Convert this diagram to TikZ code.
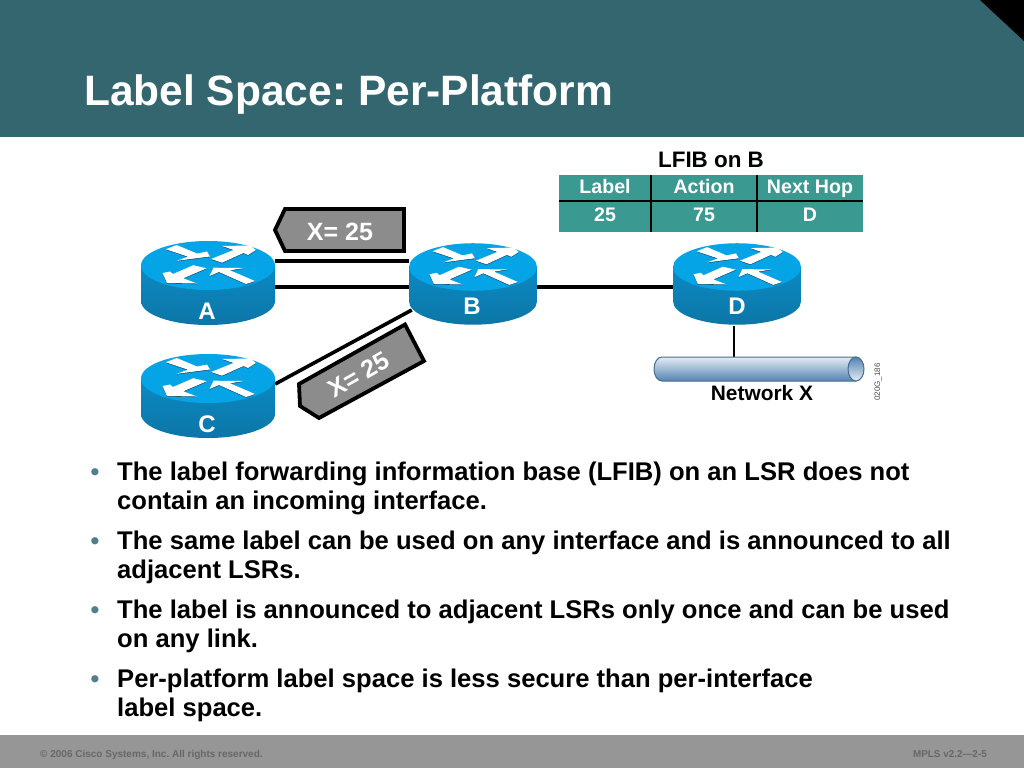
\documentclass[tikz,border=0pt]{standalone}
\usepackage{fontspec}
\usepackage{xcolor}
\setmainfont{Liberation Sans}
\frenchspacing
\definecolor{bannercolor}{HTML}{33666f}
\definecolor{footercolor}{HTML}{969696}
\definecolor{footertext}{HTML}{676767}
\definecolor{tablecolor}{HTML}{3a9990}
\definecolor{routertop}{HTML}{04a4e6}
\definecolor{routerhigh}{HTML}{0b8ac4}
\definecolor{routerlow}{HTML}{0c76a6}
\definecolor{routerdark}{HTML}{06405f}
\definecolor{flagcolor}{HTML}{8c8c8c}
\definecolor{dotcolor}{HTML}{4f7f8f}
\definecolor{buslight}{HTML}{e4ecf4}
\definecolor{busdark}{HTML}{5483b3}
\definecolor{busline}{HTML}{4a6c8c}

\tikzset{
    routerbox/.style = {minimum width = 134pt, minimum height = 84pt, inner sep = 0pt},
    routername/.style = {text = white, font = \fontsize{24}{24}\selectfont\bfseries},
    tablecell/.style = {fill = tablecolor, text = white, inner sep = 0pt, minimum height = 26pt, text height = 14pt, text depth = 4pt, font = \fontsize{19.6}{20}\selectfont\bfseries},
    flagtext/.style = {text = white, font = \fontsize{25}{25}\selectfont\bfseries},
    flagbox/.style = {fill = flagcolor, draw = black, line width = 3.8pt, miter limit = 3},
    wire/.style = {line width = 3.6pt, black},
    bodytext/.style = {anchor = north west, inner sep = 0pt, align = left, font = \fontsize{25.6}{29}\selectfont\bfseries},
    dotmark/.style = {text = dotcolor, inner sep = 0pt, font = \fontsize{25}{25}\selectfont\bfseries},
    router/.pic = {
        \path [top color = routerhigh, bottom color = routerlow] (-67, 0) -- (-67, 35.5) arc [start angle = 180, end angle = 360, x radius = 67pt, y radius = 24pt] -- (67, 0) -- cycle;
        \fill [routertop] (0, 0) ellipse [x radius = 67pt, y radius = 24.5pt];
        \foreach \arrowcolor/\arrowdrop in {routerdark/0.6, white/0} {
            \begin{scope}[shift = {(0, \arrowdrop)}]
                \fill [\arrowcolor] (-42.3, -16.2) -- (-31.3, -20.5) -- (-11, -12) -- (-1, -14) -- (2, -9) -- (-31.3, -4.7) -- (-20, -8.8) -- cycle;
                \fill [\arrowcolor] (3, -6.5) -- (14, -2.8) -- (35.5, -12.5) -- (40, -10.5) -- (48, -15.5) -- (42, -20) -- (14, -19.5) -- (25.5, -15.5) -- cycle;
                \fill [\arrowcolor] (-1.3, 2.8) -- (-14.7, -0.3) -- (-35, 8.5) -- (-38, 6) -- (-45.5, 7.5) -- (-41, 17.5) -- (-11, 18) -- (-24.7, 12.8) -- cycle;
                \fill [\arrowcolor] (47, 15.5) -- (38, 18.5) -- (11, 6.5) -- (1.5, 10.5) -- (5.5, 2.2) -- (36, 2.5) -- (22, 4.8) -- cycle;
            \end{scope}
        }
    }
}

\begin{document}
\begin{tikzpicture}[x = 1pt, y = -1pt]
    \useasboundingbox (0, 0) rectangle (1024, 768);

    % Banner and footer
    \fill [bannercolor] (0, 0) rectangle (1024, 137);
    \fill [black] (980, 0) -- (1024, 0) -- (1024, 41) -- cycle;
    \fill [footercolor] (0, 735) rectangle (1024, 768);
    \node [anchor = base west, inner sep = 0pt, text = white, font = \fontsize{42.5}{43}\selectfont\bfseries] (title) at (84, 105) {Label Space: Per-Platform};
    \node [anchor = base west, inner sep = 0pt, text = footertext, font = \fontsize{10}{10}\selectfont\bfseries] (copyright) at (40, 757.5) {© 2006 Cisco Systems, Inc. All rights reserved.};
    \node [anchor = base east, inner sep = 0pt, text = footertext, font = \fontsize{9.9}{10}\selectfont\bfseries] (course) at (987, 757.5) {MPLS v2.2—2-5};

    % Routers
    \node [routerbox] (A) at (208, 282.5) {};
    \node [routerbox] (C) at (208, 395.5) {};
    \node [routerbox, minimum width = 128pt] (B) at (473, 284) {};
    \node [routerbox, minimum width = 128pt] (D) at (737, 284) {};
    \node [minimum width = 210pt, minimum height = 24pt, inner sep = 0pt] (bus) at (759, 369) {};

    % Draw the links
    \draw [wire] ([yshift = 21.5pt]A.east) -- ([yshift = 21.5pt]A.east -| B.west);
    \draw [wire] ([yshift = -4.5pt]A.east) -- ([yshift = -4.5pt]A.east -| B.west);
    \draw [wire] ([yshift = 11.5pt]C.east) -- ([xshift = 3pt, yshift = -26pt]B.west);
    \draw [wire] ([yshift = -3pt]B.east) -- ([yshift = -3pt]D.west);
    \draw [wire, line width = 2.6pt] ([xshift = -3pt]D.south) -- ([xshift = -3pt]D.south |- bus.north);

    \pic at ([yshift = 17pt]A.center) {router};
    \pic at ([yshift = 17pt]C.center) {router};
    \pic [xscale = .955, yscale = .97] at ([yshift = 17pt]B.center) {router};
    \pic [xscale = .955, yscale = .97] at ([yshift = 17pt]D.center) {router};

    % Router names
    \node [routername] (nameA) at (207, 311) {A};
    \node [routername] (nameB) at (472, 306) {B};
    \node [routername] (nameC) at (207, 424) {C};
    \node [routername] (nameD) at (737, 306) {D};

    % Label flags
    \draw [flagbox] (275, 230) -- (285, 209) -- (404, 209) -- (404, 251) -- (285, 251) -- cycle;
    \node [flagtext] (flagtop) at (340, 232) {X= 25};
    \draw [flagbox] (405, 324.5) -- (424, 361) -- (319, 418) -- (300, 406) -- (299, 384) -- cycle;
    \node [flagtext, rotate = 30] (flagside) at (359, 375) {X= 25};

    % LFIB table
    \node [font = \fontsize{22.4}{23}\selectfont\bfseries] (tabletitle) at (711, 160) {LFIB on B};
    \node [tablecell, minimum width = 92pt] (headlabel) at (605, 188) {Label};
    \node [tablecell, minimum width = 106pt] (headaction) at (704, 188) {Action};
    \node [tablecell, minimum width = 106pt] (headhop) at (810, 188) {Next Hop};
    \node [tablecell, minimum width = 92pt, minimum height = 31pt] (rowlabel) at (605, 216.5) {25};
    \node [tablecell, minimum width = 106pt, minimum height = 31pt] (rowaction) at (704, 216.5) {75};
    \node [tablecell, minimum width = 106pt, minimum height = 31pt] (rowhop) at (810, 216.5) {D};
    \draw [black, line width = 2.4pt] (headlabel.north east) -- (rowlabel.south east);
    \draw [black, line width = 2.4pt] (headaction.north east) -- (rowaction.south east);
    \draw [black, line width = 2.4pt] (headlabel.south west) -- (headhop.south east);

    % Network X
    \path [draw = busline, line width = 1pt, top color = buslight, bottom color = busdark] (856, 357) -- (662, 357) arc [start angle = 90, end angle = 270, x radius = 8pt, y radius = 12pt] -- (856, 381) -- cycle;
    \path [draw = busline, line width = 1pt, top color = busdark, bottom color = buslight] (856, 369) ellipse [x radius = 8pt, y radius = 12pt];
    \node [font = \fontsize{20.9}{21}\selectfont\bfseries] (netname) at (762, 393) {Network X};
    \node [rotate = 90, text = black!70, inner sep = 0pt, font = \fontsize{8}{8}\selectfont] (drawingid) at (878, 382) {020G\_186};

    % Bullets
    \node [dotmark] (dot1) at (95, 475) {•};
    \node [bodytext] (item1) at (117, 461.5) {The label forwarding information base (LFIB) on an LSR does not\\contain an incoming interface.};
    \node [dotmark] (dot2) at (95, 544) {•};
    \node [bodytext] (item2) at (117, 530.5) {The same label can be used on any interface and is announced to all\\adjacent LSRs.};
    \node [dotmark] (dot3) at (95, 613) {•};
    \node [bodytext] (item3) at (117, 599.5) {The label is announced to adjacent LSRs only once and can be used\\on any link.};
    \node [dotmark] (dot4) at (95, 682) {•};
    \node [bodytext] (item4) at (117, 668.5) {Per-platform label space is less secure than per-interface\\label space.};
\end{tikzpicture}
\end{document}
